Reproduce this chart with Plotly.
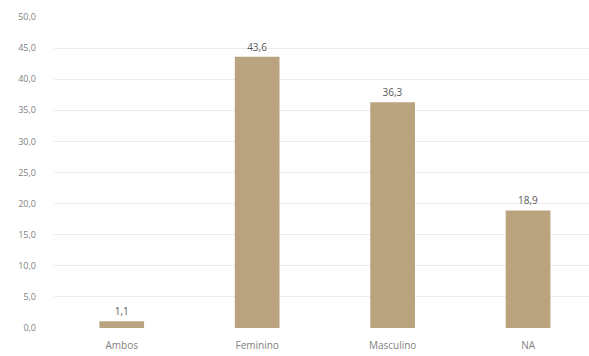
import plotly.graph_objects as go

categories = ["Ambos", "Feminino", "Masculino", "NA"]
values = [1.1, 43.6, 36.3, 18.9]
y_ticks = [0, 5, 10, 15, 20, 25, 30, 35, 40, 45, 50]
y_tick_labels = ["0,0", "5,0", "10,0", "15,0", "20,0", "25,0", "30,0", "35,0", "40,0", "45,0", "50,0"]

labels = [f"{v:.1f}".replace(".", ",") for v in values]

fig = go.Figure(
    go.Bar(
        x=list(range(len(categories))),
        y=values,
        width=0.33,
        marker=dict(color="#baa37f", line=dict(width=0)),
        text=labels,
        textposition="outside",
        textfont=dict(family="Open Sans, sans-serif", size=10, color="#595959"),
        cliponaxis=False,
    )
)

fig.update_layout(
    width=589,
    height=356,
    margin=dict(l=54, r=0, t=17, b=28),
    paper_bgcolor="white",
    plot_bgcolor="white",
    showlegend=False,
    font=dict(family="Open Sans, sans-serif", size=9, color="#7f7f7f"),
    xaxis=dict(
        tickmode="array",
        tickvals=list(range(len(categories))),
        ticktext=categories,
        range=[-0.5, 3.45],
        showgrid=False,
        zeroline=False,
        showline=False,
        ticks="",
        ticklabelstandoff=10,
        tickfont=dict(size=10, color="#7f7f7f"),
    ),
    yaxis=dict(
        range=[0, 50],
        tickmode="array",
        tickvals=y_ticks,
        ticktext=y_tick_labels,
        showgrid=True,
        gridcolor="#ececec",
        gridwidth=1,
        zeroline=False,
        showline=False,
        ticks="",
        ticklabelstandoff=17,
        tickfont=dict(size=9, color="#7f7f7f"),
    ),
)

fig.write_html("out.html")
